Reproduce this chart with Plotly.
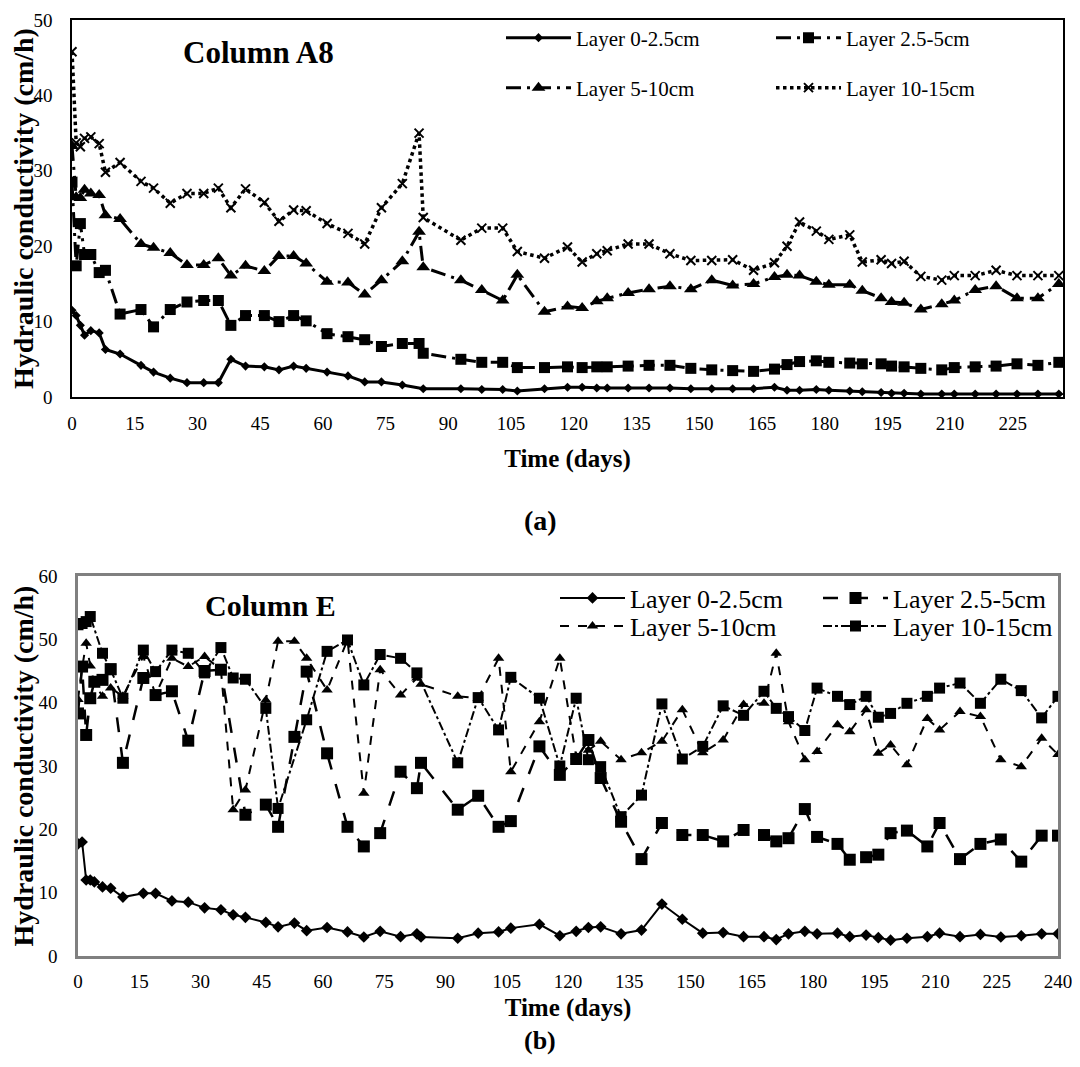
import plotly.graph_objects as go

# ---- panel (a): Column A8 ----
days_a = [0, 1, 2, 3, 4.5, 6.5, 8,
          11.5, 16.5, 19.5, 23.5, 27.5, 31.5, 35,
          38, 41.5, 46, 49.5, 53, 56, 61,
          66, 70, 74, 79, 83, 84,
          93, 98, 103, 106.5, 113, 118.5, 122,
          125.5, 128, 133, 138, 143, 148, 153,
          158, 163, 168, 171, 174, 178, 181,
          186, 189, 193.5, 196, 199, 203, 208,
          211, 216, 221, 226, 231, 236]

a_0_25 = [11.5, 10.8, 9.5, 8.2, 8.8, 8.5, 6.3,
          5.7, 4.2, 3.3, 2.5, 1.9, 1.9, 1.9,
          5.0, 4.1, 4.0, 3.6, 4.1, 3.8, 3.3,
          2.8, 2.0, 2.0, 1.6, None, 1.1,
          1.1, 1.0, 1.0, 0.8, 1.1, 1.3, 1.3,
          1.2, 1.2, 1.2, 1.2, 1.2, 1.1, 1.1,
          1.1, 1.1, 1.3, 0.9, 0.9, 1.0, 0.9,
          0.8, 0.7, 0.6, 0.5, 0.5, 0.4, 0.4,
          0.4, 0.4, 0.4, 0.4, 0.4, 0.4]

a_25_5 = [28.5, 17.4, 23.0, 18.9, 18.9, 16.5, 16.8,
          11.0, 11.6, 9.3, 11.6, 12.6, 12.8, 12.8,
          9.5, 10.8, 10.8, 10.0, 10.8, 10.1, 8.4,
          8.0, 7.6, 6.7, 7.1, 7.1, 5.8,
          5.0, 4.6, 4.6, 3.9, 3.9, 4.0, 3.9,
          4.0, 4.0, 4.1, 4.2, 4.2, 3.8, 3.6,
          3.5, 3.4, 3.7, 4.3, 4.7, 4.8, 4.6,
          4.5, 4.4, 4.4, 4.1, 4.0, 3.8, 3.6,
          3.9, 4.0, 4.1, 4.4, 4.2, 4.6]

a_5_10 = [33.3, 26.5, 26.4, 27.5, 27.0, 26.8, 24.1,
          23.6, 20.3, 19.8, 19.1, 17.5, 17.5, 18.4,
          16.1, 17.4, 16.7, 18.7, 18.7, 17.7, 15.3,
          15.2, 13.6, 15.5, 18.0, 21.9, 17.2,
          15.5, 14.2, 12.8, 16.2, 11.3, 12.0, 11.8,
          12.7, 13.1, 13.8, 14.3, 14.7, 14.3, 15.5,
          14.8, 15.0, 15.9, 16.2, 16.1, 15.3, 14.9,
          14.9, 14.1, 13.1, 12.6, 12.5, 11.6, 12.3,
          12.8, 14.2, 14.7, 13.1, 13.1, 15.0]

a_10_15 = [45.8, 33.7, 33.2, 34.3, 34.5, 33.6, 29.8,
           31.1, 28.6, 27.7, 25.7, 27.0, 27.0, 27.7,
           25.1, 27.6, 25.8, 23.3, 24.8, 24.7, 23.0,
           21.7, 20.3, 25.1, 28.3, 35.0, 23.8,
           20.8, 22.4, 22.4, 19.3, 18.4, 19.9, 17.9,
           19.0, 19.4, 20.3, 20.3, 19.0, 18.1, 18.1,
           18.2, 16.8, 17.8, 20.0, 23.2, 22.0, 20.9,
           21.5, 17.9, 18.2, 17.7, 18.0, 16.0, 15.5,
           16.1, 16.1, 16.8, 16.1, 16.1, 16.1]

# ---- panel (b): Column E ----
days_b = [0, 1, 2, 3, 4, 6, 8,
          11, 16, 19, 23, 27, 31, 35,
          38, 41, 46, 49, 53, 56, 61,
          66, 70, 74, 79, 83, 84,
          93, 98, 103, 106, 113, 118, 122,
          125, 128, 133, 138, 143, 148, 153,
          158, 163, 168, 171, 174, 178, 181,
          186, 189, 193, 196, 199, 203, 208,
          211, 216, 221, 226, 231, 236, 240]

b_0_25 = [17.7, 18.0, 12.0, 12.0, 11.7, 10.9, 10.7,
          9.3, 9.9, 9.9, 8.7, 8.5, 7.6, 7.3,
          6.5, 6.1, 5.3, 4.6, 5.2, 4.0, 4.5,
          3.8, 3.0, 3.9, 3.05, 3.5, 3.0,
          2.8, 3.6, 3.8, 4.4, 5.0, 3.2, 3.9,
          4.5, 4.6, 3.5, 4.1, 8.2, 5.8, 3.6,
          3.7, 3.05, 3.05, 2.6, 3.5, 3.9, 3.5,
          3.6, 3.05, 3.3, 2.9, 2.5, 2.8, 3.05,
          3.6, 3.05, 3.4, 3.0, 3.2, 3.5, 3.5]

b_25_5 = [38.3, 45.7, 34.9, 40.7, 43.3, 43.6, 45.3,
          30.5, 43.9, 41.2, 41.8, 34.0, 45.0, 45.2,
          None, 22.3, 23.9, 20.4, 34.6, 44.9, 32.0,
          20.4, 17.3, 19.4, 29.1, 26.5, 30.5,
          23.1, 25.3, 20.4, 21.3, 33.1, 28.6, 31.1,
          34.1, 28.1, 21.2, 15.3, 21.0, 19.1, 19.1,
          18.1, 19.9, 19.1, 18.1, 18.6, 23.2, 18.8,
          17.7, 15.2, 15.6, 16.0, 19.4, 19.8, 17.3,
          21.0, 15.3, 17.7, 18.4, 14.9, 19.0, 19.0]

b_5_10 = [40.5, 45.5, 49.4, 45.8, 43.0, 41.0, 42.3,
          41.0, 47.3, 41.2, 47.0, 45.7, 47.3, 45.2,
          23.1, 26.2, 40.4, 49.7, 49.7, 47.0, 42.0,
          49.9, 25.7, 45.2, 41.2, 43.9, 42.9,
          41.0, 40.7, 47.0, 29.1, 37.0, 47.0, 31.5,
          32.5, 33.9, 31.0, 32.1, 33.9, 38.9, 32.1,
          34.1, 39.7, 39.9, 47.8, 37.0, 31.0, 32.3,
          36.5, 35.4, 38.9, 32.0, 33.3, 30.2, 37.5,
          35.7, 38.6, 37.8, 31.0, 29.9, 34.4, 31.8]

b_10_15 = [52.3, 52.5, 52.8, 53.6, None, 47.8, 45.2,
           40.7, 48.3, 44.9, 48.3, 47.8, 44.7, 48.7,
           43.9, 43.7, 39.1, 23.3, None, 37.3, 48.1,
           49.9, 42.8, 47.6, 47.0, 44.7, None,
           30.5, 40.8, 35.7, 44.0, 40.7, 30.0, 40.7,
           31.0, 29.9, 22.0, 25.4, 39.8, 31.1, 33.1,
           39.5, 38.0, 41.8, 39.1, 37.8, 35.6, 42.3,
           41.0, 39.7, 41.0, 37.7, 38.3, 39.9, 41.0,
           42.3, 43.1, 39.9, 43.7, 41.9, 37.6, 41.0]

layer_names = ["Layer 0-2.5cm", "Layer 2.5-5cm", "Layer 5-10cm", "Layer 10-15cm"]

# page body keeps an 8px margin, so the figure is 16px smaller than the window
PAGE_W, PAGE_H = 1080, 1067
W, H = PAGE_W - 16, PAGE_H - 16
SERIF = "Liberation Serif"


def px_x(p):
    return (p - 8) / W


def px_y(p):
    return 1 - (p - 8) / H


fig = go.Figure()

# panel (a) traces, one legend box per entry (2 x 2 grid)
a_styles = [
    dict(dash="solid", width=3, symbol="diamond", size=7),
    dict(dash="longdashdot", width=3, symbol="square", size=11),
    dict(dash="longdashdot", width=3, symbol="triangle-up", size=12),
    dict(dash="dot", width=3.5, symbol="x-thin", size=9),
]
a_legends = ["legend", "legend2", "legend3", "legend4"]
for name, ys, st, lg in zip(layer_names, [a_0_25, a_25_5, a_5_10, a_10_15], a_styles, a_legends):
    fig.add_trace(go.Scatter(
        x=days_a, y=ys, name=name, mode="lines+markers", connectgaps=True,
        line=dict(color="black", width=st["width"], dash=st["dash"]),
        marker=dict(symbol=st["symbol"], size=st["size"], color="black",
                    line=dict(color="black", width=2 if st["symbol"] == "x-thin" else 0)),
        xaxis="x", yaxis="y", legend=lg,
    ))

# panel (b) traces
b_styles = [
    dict(dash="solid", width=2, symbol="diamond", size=9),
    dict(dash="longdash", width=2.5, symbol="square", size=12),
    dict(dash="dash", width=2, symbol="triangle-up", size=10),
    dict(dash="dashdot", width=2, symbol="square", size=11),
]
b_legends = ["legend5", "legend6", "legend7", "legend8"]
for name, ys, st, lg in zip(layer_names, [b_0_25, b_25_5, b_5_10, b_10_15], b_styles, b_legends):
    fig.add_trace(go.Scatter(
        x=days_b, y=ys, name=name, mode="lines+markers", connectgaps=True,
        line=dict(color="black", width=st["width"], dash=st["dash"]),
        marker=dict(symbol=st["symbol"], size=st["size"], color="black"),
        xaxis="x2", yaxis="y2", legend=lg,
    ))

tick_font = dict(family=SERIF, size=19, color="black")
xtitle_font = dict(family=SERIF, size=25, color="black")
ytitle_font = dict(family=SERIF, size=28, color="black")

axis_common = dict(showgrid=False, zeroline=False, mirror=True, ticks="",
                   tickfont=tick_font, showline=True, ticklabeloverflow="allow")


def legend_box(text_x, text_y, size):
    # legend text starts ~77px right of the legend's x
    return dict(orientation="h", xanchor="left", yanchor="middle",
                x=px_x(text_x - 77), y=px_y(text_y),
                bgcolor="rgba(0,0,0,0)", itemwidth=65,
                font=dict(family=SERIF, size=size))


fig.update_layout(
    width=W, height=H,
    showlegend=True,
    margin=dict(l=0, r=0, t=0, b=0, autoexpand=False),
    paper_bgcolor="white", plot_bgcolor="white",
    font=dict(family=SERIF, color="black"),
    xaxis=dict(axis_common, domain=[px_x(72), px_x(1063)], anchor="y",
               range=[0, 237], tick0=0, dtick=15, linecolor="black", linewidth=1.5,
               ticklabelstandoff=8,
               title=dict(text="<b>Time (days)</b>", font=xtitle_font, standoff=17)),
    yaxis=dict(axis_common, domain=[px_y(397), px_y(20)], anchor="x",
               range=[0, 50], dtick=10, linecolor="black", linewidth=1.5,
               ticklabelstandoff=14,
               title=dict(text="<b>Hydraulic conductivity (cm/h)</b>", font=ytitle_font, standoff=6)),
    xaxis2=dict(axis_common, domain=[px_x(78), px_x(1058)], anchor="y2",
                range=[0, 240], tick0=0, dtick=15, linecolor="#808080", linewidth=2.5,
                ticklabelstandoff=6,
                title=dict(text="<b>Time (days)</b>", font=xtitle_font, standoff=8)),
    yaxis2=dict(axis_common, domain=[px_y(956), px_y(576)], anchor="x2",
                range=[0, 60], dtick=10, linecolor="#808080", linewidth=2.5,
                ticklabelstandoff=14,
                title=dict(text="<b>Hydraulic conductivity (cm/h)</b>", font=ytitle_font, standoff=6)),
    legend=legend_box(578, 38, 21),
    legend2=legend_box(848, 38, 21),
    legend3=legend_box(578, 88, 21),
    legend4=legend_box(848, 88, 21),
    legend5=legend_box(632, 598, 26),
    legend6=legend_box(895, 598, 26),
    legend7=legend_box(632, 626, 26),
    legend8=legend_box(895, 626, 26),
    annotations=[
        dict(text="<b>Column A8</b>", x=px_x(258), y=px_y(52), xref="paper", yref="paper",
             xanchor="center", yanchor="middle", showarrow=False,
             font=dict(family=SERIF, size=31)),
        dict(text="<b>Column E</b>", x=px_x(270), y=px_y(605), xref="paper", yref="paper",
             xanchor="center", yanchor="middle", showarrow=False,
             font=dict(family=SERIF, size=30)),
        dict(text="<b>(a)</b>", x=px_x(540), y=px_y(520), xref="paper", yref="paper",
             xanchor="center", yanchor="middle", showarrow=False,
             font=dict(family=SERIF, size=28)),
        dict(text="<b>(b)</b>", x=px_x(540), y=px_y(1040), xref="paper", yref="paper",
             xanchor="center", yanchor="middle", showarrow=False,
             font=dict(family=SERIF, size=26)),
    ],
)

fig.write_html("out.html", config={"displayModeBar": False})
